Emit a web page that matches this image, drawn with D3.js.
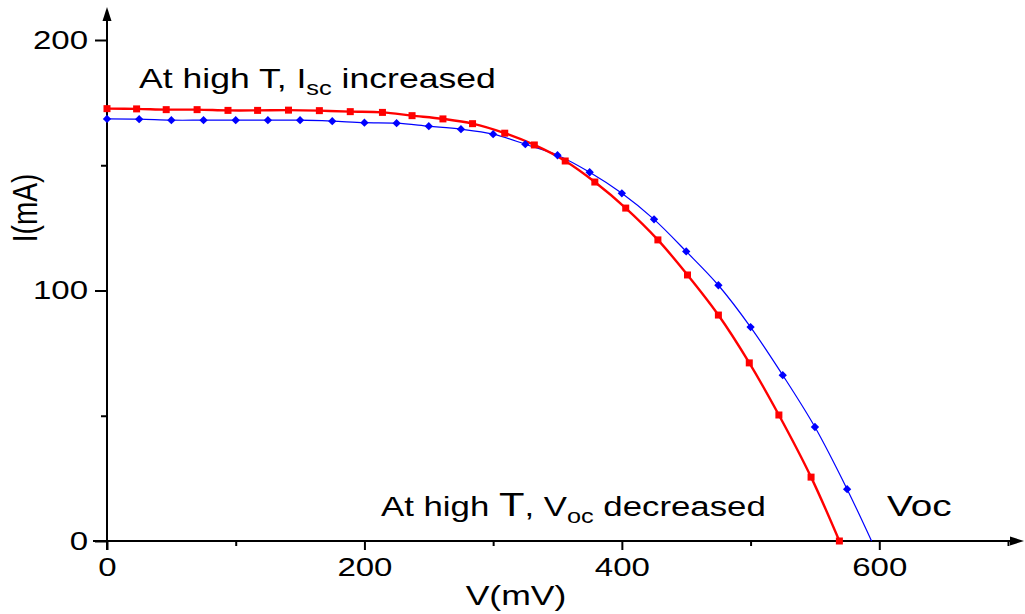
<!DOCTYPE html>
<html><head><meta charset="utf-8">
<script src="https://cdn.jsdelivr.net/npm/d3@7"></script>
<style>
body{margin:0;background:#fff;}
svg{display:block;}
text{font-family:"Liberation Sans",Arial,Helvetica,sans-serif;fill:#000;}
</style>
</head><body>
<svg id="c" width="1025" height="614"></svg>
<script>
// Red series (high T) – squares
const redV = [0, 23, 46, 70, 94, 117, 141, 165, 189, 214, 237, 261, 284, 309, 332, 356, 379, 403, 428, 451, 475, 499, 522, 547, 569];
const redI = [172.6, 172.5, 172.2, 172.2, 171.9, 171.9, 172.0, 171.8, 171.4, 171.1, 169.8, 168.5, 166.6, 162.8, 158.1, 151.7, 143.3, 132.9, 120.2, 106.2, 90.2, 71.1, 50.3, 25.5, 0];
// Blue series (low T) – diamonds
const blueV = [0, 25, 50, 75, 100, 125, 150, 175, 200, 225, 250, 275, 300, 325, 350, 375, 400, 425, 450, 475, 500, 525, 550, 575];
const blueI = [168.5, 168.4, 168.0, 168.0, 168.0, 168.0, 168.0, 167.6, 167.0, 166.8, 165.6, 164.4, 162.4, 158.4, 154.0, 147.2, 138.8, 128.4, 115.6, 102.1, 85.4, 66.2, 45.5, 20.7];
const blueVoc = 594; // fitted curve reaches I = 0 here

const xMajorTicks = [0, 200, 400, 600];
const xMinorTicks = [100, 300, 500, 700];
const yMajorTicks = [0, 100, 200];
const yMinorTicks = [50, 150];
const xTitle = "V(mV)";
const yTitle = "I(mA)";

const SX = 1.27; // horizontal glyph stretch of the original
const svg = d3.select("#c");
const x = d3.scaleLinear().domain([0, 700]).range([107, 1008]);
const y = d3.scaleLinear().domain([0, 200]).range([541, 40]);

// axes lines with arrows
svg.append("line").attr("x1", 93).attr("x2", 1014).attr("y1", y(0)).attr("y2", y(0))
  .attr("stroke", "#000").attr("stroke-width", 2);
svg.append("path").attr("d", `M1024,${y(0)} L1010,${y(0)-4.5} L1010,${y(0)+4.5} Z`).attr("fill", "#000");
svg.append("line").attr("x1", x(0)).attr("x2", x(0)).attr("y1", 550).attr("y2", 16)
  .attr("stroke", "#000").attr("stroke-width", 2);
svg.append("path").attr("d", `M${x(0)},7 L${x(0)-4.5},21 L${x(0)+4.5},21 Z`).attr("fill", "#000");

// x axis ticks
const gxMaj = svg.append("g").attr("transform", `translate(0,${y(0)})`)
  .call(d3.axisBottom(x).tickValues(xMajorTicks).tickSize(9).tickPadding(8).tickFormat(d3.format("d")));
const gxMin = svg.append("g").attr("transform", `translate(0,${y(0)})`)
  .call(d3.axisBottom(x).tickValues(xMinorTicks).tickSize(5).tickFormat(""));
// y axis ticks
const gyMaj = svg.append("g").attr("transform", `translate(${x(0)},0)`)
  .call(d3.axisLeft(y).tickValues(yMajorTicks).tickSize(12).tickPadding(7).tickFormat(d3.format("d")));
const gyMin = svg.append("g").attr("transform", `translate(${x(0)},0)`)
  .call(d3.axisLeft(y).tickValues(yMinorTicks).tickSize(6).tickFormat(""));

[gxMaj, gxMin, gyMaj, gyMin].forEach(g => {
  g.select(".domain").remove();
  g.selectAll(".tick line").attr("stroke", "#000").attr("stroke-width", 2);
});
gxMaj.selectAll(".tick text").attr("font-size", 26).attr("font-family", null)
  .attr("transform", `scale(${SX},1)`);
gyMaj.selectAll(".tick text").attr("font-size", 26).attr("font-family", null)
  .attr("x", -19 / SX).attr("transform", `scale(${SX},1)`);

// titles
svg.append("text").attr("text-anchor", "middle").attr("font-size", 28)
  .attr("transform", `translate(516,605) scale(${SX},1)`).text(xTitle);
svg.append("text").attr("text-anchor", "middle").attr("font-size", 28)
  .attr("transform", `translate(37,208) rotate(-90) scale(1,${SX})`).text(yTitle);

// curves
const redPts = redV.map((v, i) => [v, redI[i]]);
const bluePts = blueV.map((v, i) => [v, blueI[i]]).concat([[blueVoc, 0]]);
const line = d3.line().x(d => x(d[0])).y(d => y(d[1])).curve(d3.curveCatmullRom.alpha(0.5));

svg.append("path").datum(bluePts).attr("d", line).attr("fill", "none")
  .attr("stroke", "#0000ff").attr("stroke-width", 1.2);
svg.append("path").datum(redPts).attr("d", line).attr("fill", "none")
  .attr("stroke", "#ff0000").attr("stroke-width", 2.4);

svg.append("g").selectAll("path").data(blueV.map((v, i) => [v, blueI[i]])).join("path")
  .attr("transform", d => `translate(${x(d[0])},${y(d[1])})`)
  .attr("d", d3.symbol(d3.symbolDiamond2, 44)).attr("fill", "#0000ff");
svg.append("g").selectAll("rect").data(redPts).join("rect")
  .attr("x", d => x(d[0]) - 3.5).attr("y", d => y(d[1]) - 3.5)
  .attr("width", 7).attr("height", 7).attr("fill", "#ff0000");

// annotations
const a1 = svg.append("text").attr("font-size", 28).attr("transform", `translate(139,88) scale(${SX},1)`);
a1.append("tspan").text("At high T, I");
a1.append("tspan").attr("font-size", 20).attr("dy", 7).text("sc");
a1.append("tspan").attr("dy", -7).text(" increased");

const a2 = svg.append("text").attr("font-size", 27.5).attr("transform", `translate(381,516) scale(1.265,1)`);
a2.append("tspan").text("At high ");
a2.append("tspan").attr("font-size", 33).text("T");
a2.append("tspan").text(", V");
a2.append("tspan").attr("font-size", 20).attr("dy", 7).text("oc");
a2.append("tspan").attr("dy", -7).text(" decreased");

svg.append("text").attr("font-size", 30).attr("transform", `translate(887,516) scale(1.29,1)`).text("Voc");
</script>
</body></html>
